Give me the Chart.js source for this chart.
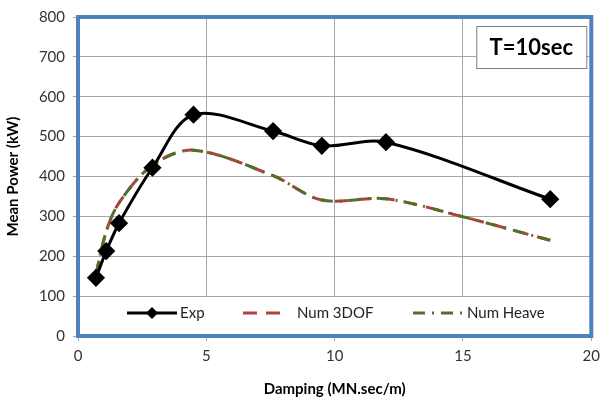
<!DOCTYPE html>
<html>
<head>
<meta charset="utf-8">
<script src="https://cdn.jsdelivr.net/npm/chart.js@4"></script>
<style>
  html, body { margin: 0; padding: 0; background: #fff; }
  #wrap { width: 606px; height: 402px; position: relative; }
</style>
</head>
<body>
<div id="wrap"><canvas id="chart"></canvas></div>
<script>
// damping values (MN.sec/m) and mean power (kW)
const expDamping = [0.7, 1.1, 1.6, 2.9, 4.5, 7.6, 9.5, 12, 18.4];
const expPower = [146, 213, 283, 422, 555, 514, 477, 486, 343];

const numDamping = [0.7, 1.1, 1.6, 2.9, 4.5, 7.6, 9.5, 12, 15, 18.4];
const num3dofPower = [155, 262, 334, 428, 466, 402, 341, 344, 299, 240];
const numHeavePower = [155, 262, 334, 428, 466, 402, 341, 344, 299, 240];

const xTicks = [0, 5, 10, 15, 20];
const yTicks = [0, 100, 200, 300, 400, 500, 600, 700, 800];
const periodLabel = 'T=10sec';

const FONT = 'Lato, "Open Sans", sans-serif';

function pts(xs, ys) {
    return xs.map((x, i) => ({ x: x, y: ys[i] }));
}

// blue frame round the plot, the period box and the legend strip
const decorations = {
    id: 'decorations',
    afterDraw(chart) {
        const ctx = chart.ctx;
        const a = chart.chartArea;
        ctx.save();

        // legend strip
        ctx.fillStyle = '#fff';
        ctx.fillRect(a.left + 12, a.bottom - 39, a.right - a.left - 20, 37);
        const items = chart.data.datasets;
        const ly = a.bottom - 23;
        const starts = [127, 243, 413];
        const lens = [50, 40, 54];
        const gaps = [3, 14, 0];
        ctx.font = '15px ' + FONT;
        ctx.textBaseline = 'middle';
        items.forEach((ds, i) => {
            const x0 = starts[i];
            ctx.strokeStyle = ds.borderColor;
            ctx.lineWidth = ds.borderWidth;
            ctx.setLineDash(ds.borderDash || []);
            ctx.beginPath();
            ctx.moveTo(x0, ly);
            ctx.lineTo(x0 + lens[i], ly);
            ctx.stroke();
            ctx.setLineDash([]);
            if (ds.pointStyle === 'rectRot' && ds.pointRadius > 0) {
                const r = 6;
                const cx = x0 + lens[i] / 2;
                ctx.fillStyle = ds.pointBackgroundColor;
                ctx.beginPath();
                ctx.moveTo(cx, ly - r);
                ctx.lineTo(cx + r, ly);
                ctx.lineTo(cx, ly + r);
                ctx.lineTo(cx - r, ly);
                ctx.closePath();
                ctx.fill();
            }
            ctx.fillStyle = '#222';
            ctx.textAlign = 'left';
            ctx.fillText(ds.label, x0 + lens[i] + gaps[i], ly);
        });

        // frame
        ctx.strokeStyle = '#4f81bd';
        ctx.lineWidth = 4;
        ctx.strokeRect(a.left, a.top, a.right - a.left, a.bottom - a.top);

        // period box
        const bw = 110, bh = 42;
        const bx = a.right - 115, by = a.top + 9;
        ctx.fillStyle = '#fff';
        ctx.fillRect(bx, by, bw, bh);
        ctx.strokeStyle = '#7f7f7f';
        ctx.lineWidth = 1;
        ctx.strokeRect(bx + 0.5, by + 0.5, bw, bh);
        ctx.fillStyle = '#000';
        ctx.font = 'bold 22px ' + FONT;
        ctx.textAlign = 'center';
        ctx.fillText(periodLabel, bx + bw / 2, by + bh / 2 + 1);

        ctx.restore();
    }
};

new Chart(document.getElementById('chart'), {
    type: 'line',
    data: {
        datasets: [
            {
                label: 'Exp',
                data: pts(expDamping, expPower),
                borderColor: '#000',
                borderWidth: 3,
                pointStyle: 'rectRot',
                pointRadius: 7,
                pointBackgroundColor: '#000',
                pointBorderColor: '#000',
                tension: 0.33,
                order: 0
            },
            {
                label: 'Num 3DOF',
                data: pts(numDamping, num3dofPower),
                borderColor: '#b0423e',
                borderWidth: 3,
                borderDash: [14, 9],
                pointRadius: 0,
                tension: 0.33,
                order: 2
            },
            {
                label: 'Num Heave',
                data: pts(numDamping, numHeavePower),
                borderColor: '#53702a',
                borderWidth: 3,
                borderDash: [12, 7, 2, 7],
                pointRadius: 0,
                tension: 0.33,
                order: 1
            }
        ]
    },
    options: {
        responsive: true,
        maintainAspectRatio: false,
        animation: false,
        layout: { padding: { top: 14, right: 12, left: 0, bottom: 0 } },
        plugins: {
            legend: { display: false },
            tooltip: { enabled: false }
        },
        scales: {
            x: {
                type: 'linear',
                min: 0,
                max: 20,
                afterBuildTicks: (s) => { s.ticks = xTicks.map(v => ({ value: v })); },
                afterFit: (s) => { s.height = 66; },
                grid: { color: '#a6a6a6', lineWidth: 1, tickLength: 5, tickColor: '#a6a6a6' },
                border: { display: false },
                ticks: { color: '#333', font: { family: FONT, size: 15 }, padding: 6 },
                title: {
                    display: true,
                    text: 'Damping (MN.sec/m)',
                    color: '#000',
                    font: { family: FONT, size: 15, weight: 'bold' },
                    padding: { top: 8 }
                }
            },
            y: {
                min: 0,
                max: 800,
                afterBuildTicks: (s) => { s.ticks = yTicks.map(v => ({ value: v })); },
                afterFit: (s) => { s.width = 78; },
                grid: { color: '#a6a6a6', lineWidth: 1, tickLength: 5, tickColor: '#a6a6a6' },
                border: { display: false },
                ticks: { color: '#333', font: { family: FONT, size: 15 }, padding: 8 },
                title: {
                    display: true,
                    text: 'Mean Power (kW)',
                    color: '#000',
                    font: { family: FONT, size: 15, weight: 'bold' },
                    padding: { bottom: 2 }
                }
            }
        }
    },
    plugins: [decorations]
});
</script>
</body>
</html>
